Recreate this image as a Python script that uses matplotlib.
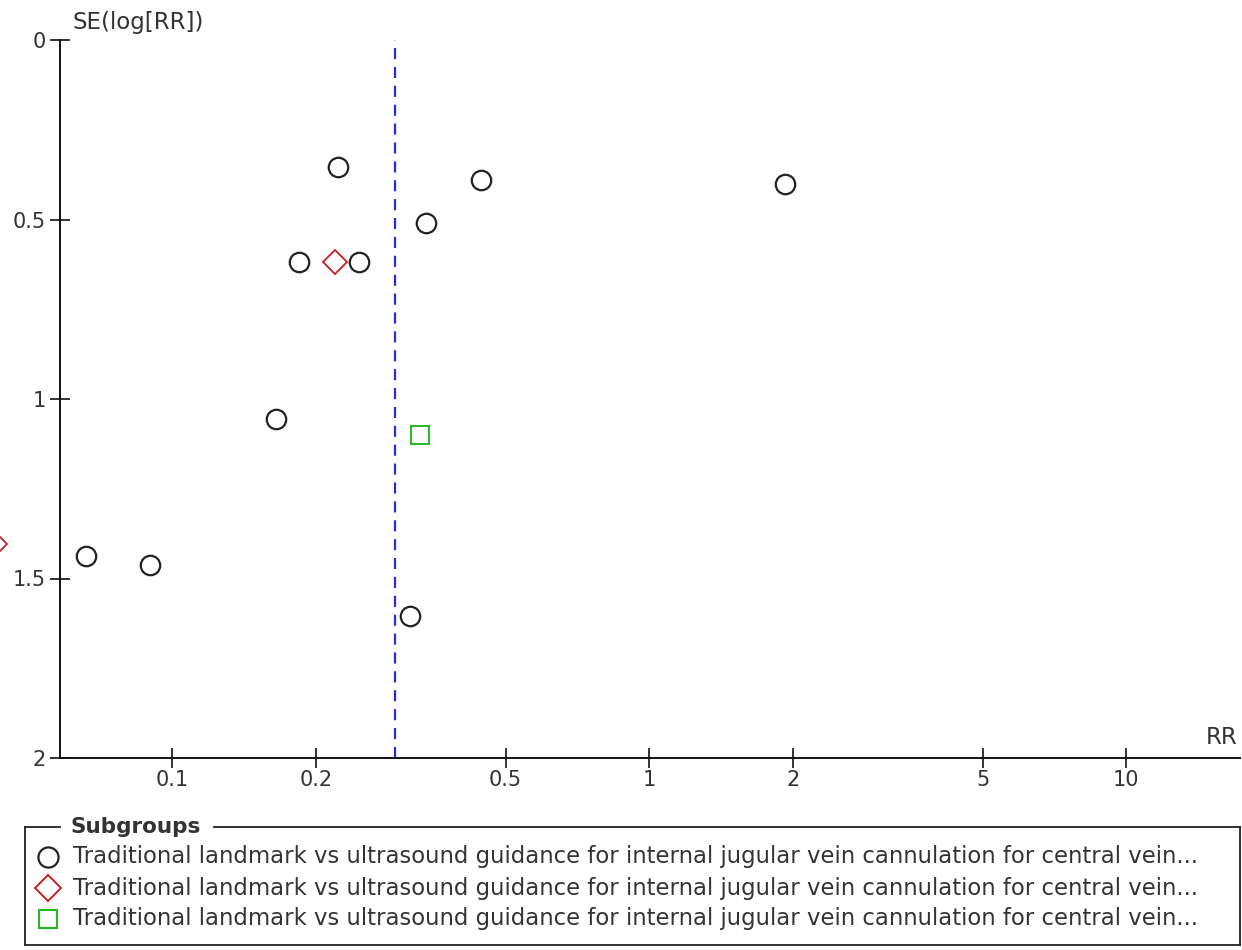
import matplotlib
matplotlib.use("Agg")
import matplotlib.pyplot as plt
from matplotlib.lines import Line2D
import numpy as np

plt.rcParams['font.family'] = ['DejaVu Sans']

# ---- data ----
circle_rr = [0.2228, 0.4446, 1.928, 0.3408, 0.1846, 0.2466, 0.1652, 0.0660, 0.0899, 0.3155]
circle_se = [0.354, 0.390, 0.401, 0.510, 0.618, 0.618, 1.056, 1.437, 1.462, 1.604]
diamond_rr = [0.2196, 0.0425]
diamond_se = [0.618, 1.405]
square_rr = [0.3312]
square_se = [1.100]
pooled_rr = 0.2934
x_ticks = [0.1, 0.2, 0.5, 1, 2, 5, 10]
x_tick_labels = ['0.1', '0.2', '0.5', '1', '2', '5', '10']
y_ticks = [0, 0.5, 1, 1.5, 2]
y_tick_labels = ['0', '0.5', '1', '1.5', '2']
legend_labels = [
    "Traditional landmark vs ultrasound guidance for internal jugular vein cannulation for central vein...",
    "Traditional landmark vs ultrasound guidance for internal jugular vein cannulation for central vein...",
    "Traditional landmark vs ultrasound guidance for internal jugular vein cannulation for central vein...",
]

W, H = 1242, 950
fig = plt.figure(figsize=(W / 100, H / 100), dpi=100)
ax = fig.add_axes([60 / W, 1 - 758 / H, (1240 - 60) / W, (758 - 40) / H])

tc = '#333333'
ax.set_xscale('log')
ax.set_xlim(0.0582, 17.3)
ax.set_ylim(2, 0)

ax.axvline(pooled_rr, color='#2a2ae0', lw=1.6, ls=(0, (5, 3.5)), zorder=1)

ax.plot(circle_rr, circle_se, 'o', ms=14, mfc='none', mec='#222222', mew=1.6, zorder=3)
ax.plot(diamond_rr, diamond_se, 'D', ms=12.5, mfc='none', mec='#cc2a2a', mew=1.4, zorder=3, clip_on=False)
ax.plot(square_rr, square_se, 's', ms=13, mfc='none', mec='#22bb22', mew=1.4, zorder=3)

for s in ['top', 'right']:
    ax.spines[s].set_visible(False)
for s in ['left', 'bottom']:
    ax.spines[s].set_linewidth(1.4)
    ax.spines[s].set_color('#111111')

ax.set_xticks(x_ticks)
ax.set_xticklabels(x_tick_labels)
ax.xaxis.set_minor_locator(matplotlib.ticker.NullLocator())
ax.set_yticks(y_ticks)
ax.set_yticklabels(y_tick_labels)
ax.tick_params(axis='both', direction='inout', length=14, width=1.2, color='#111111',
               labelsize=15, labelcolor=tc)
ax.tick_params(axis='x', pad=2)
ax.tick_params(axis='y', pad=3)

fig.text(72 / W, 1 - 22 / H, 'SE(log[RR])', fontsize=16.5, color=tc, ha='left', va='center')
fig.text(1237 / W, 1 - 738 / H, 'RR', fontsize=16.5, color=tc, ha='right', va='center')

# ---- legend frame ----
x0, x1, y0, y1 = 25, 1240, 827, 945
lc = '#222222'
def fl(xs, ys):
    fig.add_artist(Line2D([x / W for x in xs], [1 - y / H for y in ys], color=lc, lw=1.3))
fl([x0, 60], [y0, y0])
fl([214, x1], [y0, y0])
fl([x0, x0], [y0, y1])
fl([x1, x1], [y0, y1])
fl([x0, x1], [y1, y1])
fig.text(70 / W, 1 - y0 / H, 'Subgroups', fontsize=15.5, fontweight='bold', color='#333333',
         ha='left', va='center')

rows = [857, 888, 919]
styles = [dict(marker='o', ms=14.5, mec='#222222', mew=1.6),
          dict(marker='D', ms=13.5, mec='#cc2a2a', mew=1.5),
          dict(marker='s', ms=13.5, mec='#22bb22', mew=1.5)]
for yy, st, lab in zip(rows, styles, legend_labels):
    fig.add_artist(Line2D([48 / W], [1 - yy / H], ls='none', mfc='none', **st))
    fig.text(73 / W, 1 - yy / H, lab, fontsize=16.4, color='#333333', ha='left', va='center')

fig.savefig('out.png', dpi=100)
